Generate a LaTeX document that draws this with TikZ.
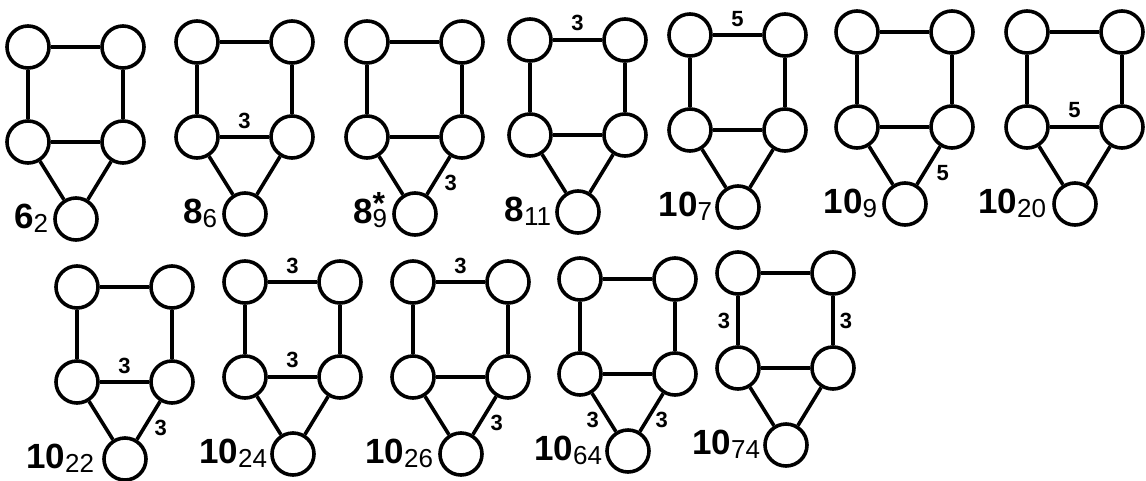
\documentclass[tikz,border=0pt]{standalone}
\usepackage{fontspec}
\setmainfont{Liberation Sans}
\usepackage{tikz}
\usetikzlibrary{positioning}
\tikzset{
  vtx/.style={draw, circle, line width=3.6pt, minimum size=42pt, inner sep=0pt},
  edge/.style={line width=3.6pt},
  wt/.style={font=\fontsize{22}{22}\selectfont\bfseries, inner sep=0pt},
  gname/.style={font=\fontsize{35}{35}\selectfont\bfseries, inner sep=0pt, anchor=base east}
}
\newcommand{\lsub}[1]{\raisebox{-4pt}{\fontsize{26}{26}\selectfont\mdseries #1}}

\begin{document}
\begin{tikzpicture}[x=1pt, y=1pt]
    \useasboundingbox (0,0) rectangle (1146,-480);
    % one skeleton per graph
    \foreach \g/\x/\y in {a/28/47, b/197/42, c/367/42, d/530/40, e/690/35, f/857/32, g/1027/32,
                          h/77/287, i/245/282, j/413/282, k/580/279, l/738/273}{
        \begin{scope}[shift={(\x,-\y)}, name prefix=\g-]
            \node[vtx] (TL) at (0,0) {};
            \node[vtx] (TR) at (95,0) {};
            \node[vtx] (ML) at (0,-95) {};
            \node[vtx] (MR) at (95,-95) {};
            \node[vtx] (B) at (48,-172) {};
            \draw[edge] (ML)--(TL)--(TR)--(MR)--(ML)--(B)--(MR);
        \end{scope}
    }

    % names
    \node[gname, xshift=-5pt, yshift=-9pt] (a-lab) at (a-B.west) {6\lsub{2}};
    \node[gname, xshift=-5pt, yshift=-9pt] (b-lab) at (b-B.west) {8\lsub{6}};
    \node[gname, xshift=-5pt, yshift=-9pt] (c-lab) at (c-B.west) {8\rlap{\raisebox{9pt}{\fontsize{32}{32}\selectfont *}}\lsub{9}};
    \node[gname, xshift=-4pt, yshift=-9pt] (d-lab) at (d-B.west) {8\lsub{11}};
    \node[gname, xshift=-3pt, yshift=-9pt] (e-lab) at (e-B.west) {10\lsub{7}};
    \node[gname, xshift=-5pt, yshift=-9pt] (f-lab) at (f-B.west) {10\lsub{9}};
    \node[gname, xshift=-6pt, yshift=-9pt] (g-lab) at (g-B.west) {10\lsub{20}};
    \node[gname, xshift=-8pt, yshift=-9pt] (h-lab) at (h-B.west) {10\lsub{22}};
    \node[gname, xshift=-3pt, yshift=-9pt] (i-lab) at (i-B.west) {10\lsub{24}};
    \node[gname, xshift=-5pt, yshift=-9pt] (j-lab) at (j-B.west) {10\lsub{26}};
    \node[gname, xshift=-3pt, yshift=-9pt] (k-lab) at (k-B.west) {10\lsub{64}};
    \node[gname, xshift=-3pt, yshift=-9pt] (l-lab) at (l-B.west) {10\lsub{74}};

    % edge weights
    \path (b-ML)--(b-MR) node[wt, midway, yshift=16pt] {3};
    \path (c-MR)--(c-B) node[wt, pos=0.7, xshift=17pt] {3};
    \path (d-TL)--(d-TR) node[wt, midway, yshift=17pt] {3};
    \path (e-TL)--(e-TR) node[wt, midway, yshift=16pt] {5};
    \path (f-MR)--(f-B) node[wt, pos=0.7, xshift=19pt] {5};
    \path (g-ML)--(g-MR) node[wt, midway, yshift=17pt] {5};
    \path (h-ML)--(h-MR) node[wt, midway, yshift=16pt] {3};
    \path (h-MR)--(h-B) node[wt, pos=0.7, xshift=17pt] {3};
    \path (i-TL)--(i-TR) node[wt, midway, yshift=16pt] {3};
    \path (i-ML)--(i-MR) node[wt, midway, yshift=17pt] {3};
    \path (j-TL)--(j-TR) node[wt, midway, yshift=16pt] {3};
    \path (j-MR)--(j-B) node[wt, pos=0.7, xshift=17pt] {3};
    \path (k-ML)--(k-B) node[wt, pos=0.7, xshift=-16pt] {3};
    \path (k-MR)--(k-B) node[wt, pos=0.7, xshift=15pt] {3};
    \path (l-TL)--(l-ML) node[wt, midway, xshift=-14pt] {3};
    \path (l-TR)--(l-MR) node[wt, midway, xshift=13pt] {3};
\end{tikzpicture}
\end{document}
